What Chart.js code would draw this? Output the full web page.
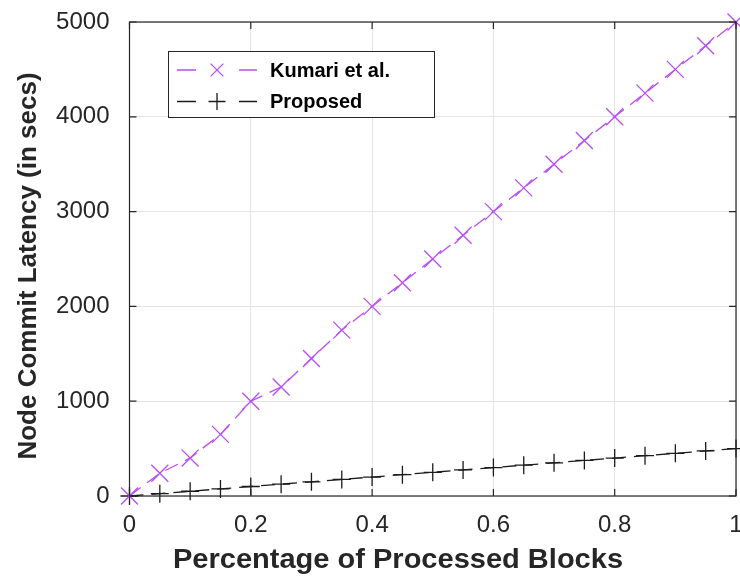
<!DOCTYPE html>
<html>
<head>
<meta charset="utf-8">
<script src="https://cdn.jsdelivr.net/npm/chart.js@4.4.1/dist/chart.umd.min.js"></script>
<style>
  html, body { margin: 0; padding: 0; background: #fff; }
  canvas { display: block; }
</style>
</head>
<body>
<canvas id="chart" width="740" height="579"></canvas>
<script>
const xValues = [0, 0.05, 0.1, 0.15, 0.2, 0.25, 0.3, 0.35, 0.4, 0.45, 0.5,
                 0.55, 0.6, 0.65, 0.7, 0.75, 0.8, 0.85, 0.9, 0.95, 1];
const kumariLatency = [0, 240, 400, 650, 1000, 1150, 1450, 1750, 2000, 2250, 2500,
                       2750, 3000, 3250, 3500, 3750, 4000, 4250, 4500, 4750, 5000];
const proposedLatency = [0, 25, 50, 75, 100, 125, 150, 175, 200, 225, 250,
                         275, 300, 325, 350, 375, 400, 425, 450, 475, 500];
const seriesNames = ['Kumari et al.', 'Proposed'];
const xTickValues = [0, 0.2, 0.4, 0.6, 0.8, 1];
const yTickValues = [0, 1000, 2000, 3000, 4000, 5000];
const xTitle = 'Percentage of Processed Blocks';
const yTitle = 'Node Commit Latency (in secs)';

const purple = '#b84cf5';
const dark = '#1c1c1c';
const axisColor = '#262626';
const font = '"Liberation Sans", Arial, Helvetica, sans-serif';

function toPoints(ys) {
    return xValues.map((x, i) => ({ x: x, y: ys[i] }));
}

function drawMarker(ctx, style, x, y, r) {
    ctx.beginPath();
    if (style === 'crossRot') {
        const d = r * Math.SQRT1_2;
        ctx.moveTo(x - d, y - d); ctx.lineTo(x + d, y + d);
        ctx.moveTo(x - d, y + d); ctx.lineTo(x + d, y - d);
    } else {
        ctx.moveTo(x - r, y); ctx.lineTo(x + r, y);
        ctx.moveTo(x, y - r); ctx.lineTo(x, y + r);
    }
    ctx.stroke();
}

// box, inward ticks, axis titles and the legend
const framePlugin = {
    id: 'frame',
    afterDraw(chart) {
        const ctx = chart.ctx;
        const a = chart.chartArea;
        const xs = chart.scales.x, ys = chart.scales.y;
        ctx.save();
        ctx.strokeStyle = axisColor;
        ctx.lineWidth = 1.2;
        ctx.setLineDash([]);
        ctx.strokeRect(a.left, a.top, a.right - a.left, a.bottom - a.top);
        const t = 7;
        ctx.beginPath();
        xTickValues.forEach(v => {
            const px = xs.getPixelForValue(v);
            ctx.moveTo(px, a.bottom); ctx.lineTo(px, a.bottom - t);
            ctx.moveTo(px, a.top); ctx.lineTo(px, a.top + t);
        });
        yTickValues.forEach(v => {
            const py = ys.getPixelForValue(v);
            ctx.moveTo(a.left, py); ctx.lineTo(a.left + t, py);
            ctx.moveTo(a.right, py); ctx.lineTo(a.right - t, py);
        });
        ctx.stroke();

        // axis titles
        ctx.fillStyle = axisColor;
        ctx.textAlign = 'center';
        ctx.textBaseline = 'middle';
        ctx.save();
        ctx.font = 'bold 27px ' + font;
        ctx.translate(398, 561);
        ctx.scale(1.075, 1);
        ctx.fillText(xTitle, 0, 0);
        ctx.restore();
        ctx.save();
        ctx.font = 'bold 26px ' + font;
        ctx.translate(29, 266);
        ctx.rotate(-Math.PI / 2);
        ctx.fillText(yTitle, 0, 0);
        ctx.restore();

        // legend
        const lx = 168.5, ly = 51.5, lw = 266, lh = 66;
        ctx.fillStyle = '#fff';
        ctx.fillRect(lx, ly, lw, lh);
        ctx.strokeStyle = axisColor;
        ctx.lineWidth = 1;
        ctx.strokeRect(lx, ly, lw, lh);
        const rows = [70, 101.5];
        chart.data.datasets.forEach((ds, i) => {
            const y = rows[i];
            ctx.strokeStyle = ds.borderColor;
            ctx.lineWidth = 1.3;
            ctx.beginPath();
            ctx.moveTo(177, y); ctx.lineTo(196, y);
            ctx.moveTo(239, y); ctx.lineTo(257, y);
            ctx.stroke();
            drawMarker(ctx, ds.pointStyle, 217, y, ds.pointStyle === 'crossRot' ? 9 : 8.5);
            ctx.fillStyle = '#000';
            ctx.font = 'bold 20px ' + font;
            ctx.textAlign = 'left';
            ctx.fillText(ds.label, 270, y + 1);
        });
        ctx.restore();
    }
};

function initChart() {
    const ctx = document.getElementById('chart').getContext('2d');
    new Chart(ctx, {
        type: 'scatter',
        data: {
            datasets: [
                {
                    label: seriesNames[0],
                    data: toPoints(kumariLatency),
                    showLine: true,
                    borderColor: purple,
                    borderWidth: 1.3,
                    borderDash: [14, 8],
                    pointStyle: 'crossRot',
                    pointRadius: 12,
                    pointBorderColor: purple,
                    pointBorderWidth: 1.3,
                    tension: 0,
                    clip: false
                },
                {
                    label: seriesNames[1],
                    data: toPoints(proposedLatency),
                    showLine: true,
                    borderColor: dark,
                    borderWidth: 1.3,
                    borderDash: [14, 8],
                    pointStyle: 'cross',
                    pointRadius: 9,
                    pointBorderColor: dark,
                    pointBorderWidth: 1.3,
                    tension: 0,
                    clip: false
                }
            ]
        },
        options: {
            responsive: false,
            animation: false,
            devicePixelRatio: 1,
            layout: { autoPadding: false, padding: { top: 22, right: 4, left: 0, bottom: 0 } },
            plugins: { legend: { display: false }, tooltip: { enabled: false } },
            scales: {
                x: {
                    type: 'linear',
                    min: 0,
                    max: 1,
                    afterBuildTicks: s => { s.ticks = xTickValues.map(v => ({ value: v })); },
                    afterFit: s => { s.height = 83; s.paddingLeft = 0; s.paddingRight = 0; },
                    grid: { color: '#e4e4e4', lineWidth: 1, drawTicks: false },
                    border: { display: false },
                    ticks: {
                        padding: 15,
                        color: axisColor,
                        font: { family: font, size: 24 },
                        maxRotation: 0,
                        callback: v => String(v)
                    }
                },
                y: {
                    min: 0,
                    max: 5000,
                    afterBuildTicks: s => { s.ticks = yTickValues.map(v => ({ value: v })); },
                    afterFit: s => { s.width = 129.5; s.paddingTop = 0; s.paddingBottom = 0; },
                    grid: { color: '#e4e4e4', lineWidth: 1, drawTicks: false },
                    border: { display: false },
                    ticks: {
                        padding: 20,
                        color: axisColor,
                        font: { family: font, size: 24 },
                        callback: v => String(v)
                    }
                }
            }
        },
        plugins: [framePlugin]
    });
}

document.addEventListener('DOMContentLoaded', initChart);
</script>
</body>
</html>
